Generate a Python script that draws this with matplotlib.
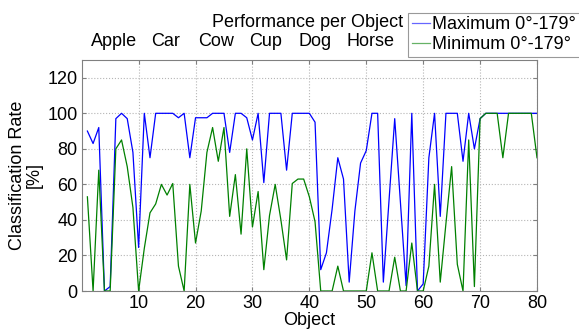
import numpy as np
import matplotlib
matplotlib.use("Agg")
import matplotlib.pyplot as plt

plt.rcParams["font.family"] = ["Liberation Sans", "DejaVu Sans"]

# classification rate per object
objects = np.arange(1, 81)
max_rate = [90, 83, 92, 0, 2.5, 97, 100, 97, 78, 24.5,
            100, 75, 100, 100, 100, 100, 97.5, 100, 75, 97.5,
            97.5, 97.5, 100, 100, 100, 78, 100, 100, 97.5, 85,
            100, 61, 100, 100, 100, 68, 100, 100, 100, 100,
            95, 12, 21.5, 46, 75, 63, 5, 45, 72, 79,
            100, 100, 5, 51, 97, 50, 3, 100, 0, 4,
            75, 100, 42, 100, 100, 100, 73, 100, 80, 97,
            100, 100, 100, 100, 100, 100, 100, 100, 100, 100]
min_rate = [53, 0, 68, 0, 0, 80, 85, 70, 47, 0,
            24, 44, 49, 60, 54, 60.5, 14, 0, 60, 27,
            45, 78, 92, 73, 92, 42, 65.5, 32, 80, 36,
            56, 12, 42.5, 60, 40, 17.5, 60.5, 63, 63, 53,
            39, 0, 0, 0, 14, 0, 0, 0, 0, 0,
            21.5, 0, 0, 0, 19, 0, 0, 27, 0, 0,
            14, 60, 5, 38, 70, 15, 0, 85, 2.5, 97,
            100, 100, 100, 75, 100, 100, 100, 100, 100, 75]

categories = ["Apple", "Car", "Cow", "Cup", "Dog", "Horse"]
cat_px = [114, 166, 216, 266, 315, 371]   # label centres in pixels

W, H = 579, 330
fig = plt.figure(figsize=(W / 100, H / 100), dpi=100)
ax = fig.add_axes([81.7 / W, 1 - 291 / H, (537 - 81.7) / W, (291 - 60) / H])

ax.plot(objects, max_rate, color="#0000ff", lw=0.9, label="Maximum 0°-179°")
ax.plot(objects, min_rate, color="#008000", lw=0.9, label="Minimum 0°-179°")

ax.set_xlim(0, 80)
ax.set_ylim(0, 130)
ax.set_xticks(np.arange(10, 81, 10))
ax.set_yticks(np.arange(0, 121, 20))
ax.grid(True, linestyle=":", color="#b5b5b5", lw=0.8)
ax.tick_params(direction="in", length=3, top=True, right=True,
               labelsize=13, color="#808080", pad=3)
for spine in ax.spines.values():
    spine.set_color("#808080")
    spine.set_linewidth(0.8)

ax.set_xlabel("Object", fontsize=13, labelpad=0)
ax.set_ylabel("Classification Rate\n[%]", fontsize=13, linespacing=1.0)
ax.yaxis.set_label_coords(-0.085, 0.5)

fig.text(308 / W, 1 - 27 / H, "Performance per Object", fontsize=13,
         ha="center", va="baseline")
for name, px in zip(categories, cat_px):
    fig.text(px / W, 1 - 46 / H, name, fontsize=13, ha="center", va="baseline")

leg = ax.legend(loc="upper left", bbox_to_anchor=(408 / W, 1 - 12.7 / H),
                bbox_transform=fig.transFigure, fontsize=13, frameon=True,
                fancybox=False, handlelength=1.0, handletextpad=0.15,
                borderpad=0.2, labelspacing=0.15, borderaxespad=0)
leg.get_frame().set_edgecolor("#808080")
leg.get_frame().set_linewidth(0.8)
for line in leg.get_lines():
    line.set_alpha(0.6)

fig.savefig("out.png", dpi=100)
plt.close(fig)
